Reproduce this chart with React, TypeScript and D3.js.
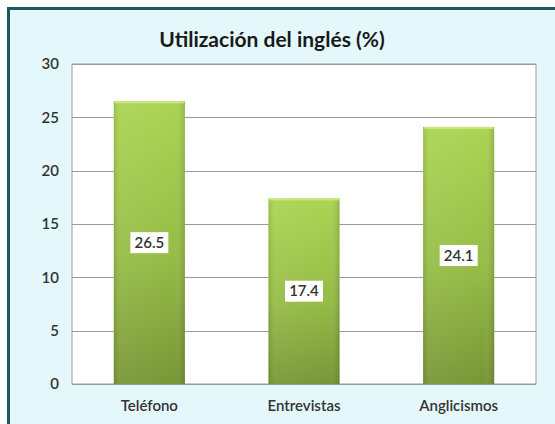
import { useEffect, useRef } from 'react';
import * as d3 from 'd3';

const categories = ['Teléfono', 'Entrevistas', 'Anglicismos'];
const values = [26.5, 17.4, 24.1];
const yTicks = [0, 5, 10, 15, 20, 25, 30];
const title = 'Utilización del inglés (%)';

function App() {
  const svgRef = useRef<SVGSVGElement>(null);

  useEffect(() => {
    const width = 555;
    const height = 424;
    const svg = d3.select(svgRef.current);
    svg.selectAll('*').remove();
    svg.attr('width', width).attr('height', height);

    const font = 'Lato, "Open Sans", sans-serif';

    // gradientes
    const defs = svg.append('defs');
    const grad = defs.append('linearGradient')
      .attr('id', 'barGrad').attr('x1', 0).attr('y1', 0).attr('x2', 0).attr('y2', 1);
    grad.append('stop').attr('offset', '0%').attr('stop-color', '#abd453');
    grad.append('stop').attr('offset', '55%').attr('stop-color', '#96bc46');
    grad.append('stop').attr('offset', '100%').attr('stop-color', '#789636');
    const side = defs.append('linearGradient')
      .attr('id', 'sideGrad').attr('x1', 0).attr('y1', 0).attr('x2', 1).attr('y2', 0);
    side.append('stop').attr('offset', '0%').attr('stop-color', '#000').attr('stop-opacity', 0.1);
    side.append('stop').attr('offset', '8%').attr('stop-color', '#fff').attr('stop-opacity', 0.06);
    side.append('stop').attr('offset', '85%').attr('stop-color', '#fff').attr('stop-opacity', 0);
    side.append('stop').attr('offset', '100%').attr('stop-color', '#000').attr('stop-opacity', 0.14);

    // fondo y marco
    svg.append('rect').attr('width', width).attr('height', height).attr('fill', '#fff');
    svg.append('rect')
      .attr('x', 8.5).attr('y', 8.5)
      .attr('width', width + 20).attr('height', height + 20)
      .attr('fill', '#e4f8fc')
      .attr('stroke', '#1d5963').attr('stroke-width', 3);

    const plot = { left: 72, right: 536, top: 64, bottom: 384 };

    const x = d3.scaleBand<string>()
      .domain(categories)
      .range([plot.left, plot.right])
      .paddingInner(0.54)
      .paddingOuter(0.27);
    const y = d3.scaleLinear().domain([0, 30]).range([plot.bottom, plot.top]);

    svg.append('rect')
      .attr('x', plot.left).attr('y', plot.top)
      .attr('width', plot.right - plot.left).attr('height', plot.bottom - plot.top)
      .attr('fill', '#fff').attr('stroke', '#9a9a9a').attr('stroke-width', 1);

    svg.append('g')
      .selectAll('line')
      .data(yTicks)
      .enter()
      .append('line')
      .attr('x1', plot.left).attr('x2', plot.right)
      .attr('y1', d => Math.round(y(d)) + 0.5).attr('y2', d => Math.round(y(d)) + 0.5)
      .attr('stroke', '#9a9a9a').attr('stroke-width', 1);

    svg.append('g')
      .selectAll('text')
      .data(yTicks)
      .enter()
      .append('text')
      .attr('x', 59).attr('y', d => y(d))
      .attr('dy', '0.35em')
      .attr('text-anchor', 'end')
      .attr('font-family', font).attr('font-size', 15).attr('font-weight', 600)
      .attr('fill', '#333')
      .text(d => d);

    // barras
    const bars = svg.append('g')
      .selectAll('g')
      .data(values)
      .enter()
      .append('g');

    bars.append('rect')
      .attr('x', (d, i) => x(categories[i])!)
      .attr('y', d => y(d))
      .attr('width', x.bandwidth())
      .attr('height', d => y(0) - y(d))
      .attr('fill', 'url(#barGrad)');
    bars.append('rect')
      .attr('x', (d, i) => x(categories[i])!)
      .attr('y', d => y(d))
      .attr('width', x.bandwidth())
      .attr('height', d => y(0) - y(d))
      .attr('fill', 'url(#sideGrad)');
    bars.append('rect')
      .attr('x', (d, i) => x(categories[i])! + 1)
      .attr('y', d => y(d))
      .attr('width', x.bandwidth() - 2)
      .attr('height', 2)
      .attr('fill', '#c8e87c');

    // etiquetas de datos
    const lw = 38;
    const lh = 21;
    bars.append('rect')
      .attr('x', (d, i) => x(categories[i])! + x.bandwidth() / 2 - lw / 2)
      .attr('y', d => (y(d) + y(0)) / 2 - lh / 2)
      .attr('width', lw).attr('height', lh)
      .attr('fill', '#fff');
    bars.append('text')
      .attr('x', (d, i) => x(categories[i])! + x.bandwidth() / 2)
      .attr('y', d => (y(d) + y(0)) / 2)
      .attr('dy', '0.35em')
      .attr('text-anchor', 'middle')
      .attr('font-family', font).attr('font-size', 15).attr('font-weight', 600)
      .attr('fill', '#333')
      .text(d => d.toFixed(1));

    // categorías
    svg.append('g')
      .selectAll('text')
      .data(categories)
      .enter()
      .append('text')
      .attr('x', d => x(d)! + x.bandwidth() / 2)
      .attr('y', 406)
      .attr('dy', '0.35em')
      .attr('text-anchor', 'middle')
      .attr('font-family', font).attr('font-size', 15).attr('font-weight', 600)
      .attr('fill', '#333')
      .text(d => d);

    // título
    svg.append('text')
      .attr('x', 272).attr('y', 40)
      .attr('dy', '0.35em')
      .attr('text-anchor', 'middle')
      .attr('font-family', font).attr('font-size', 21).attr('font-weight', 'bold')
      .attr('fill', '#1a1a1a')
      .text(title);
  }, []);

  return (
    <div style={{ position: 'fixed', left: 0, top: 0 }}>
      <svg ref={svgRef} style={{ display: 'block' }}></svg>
    </div>
  );
}

export default App;
